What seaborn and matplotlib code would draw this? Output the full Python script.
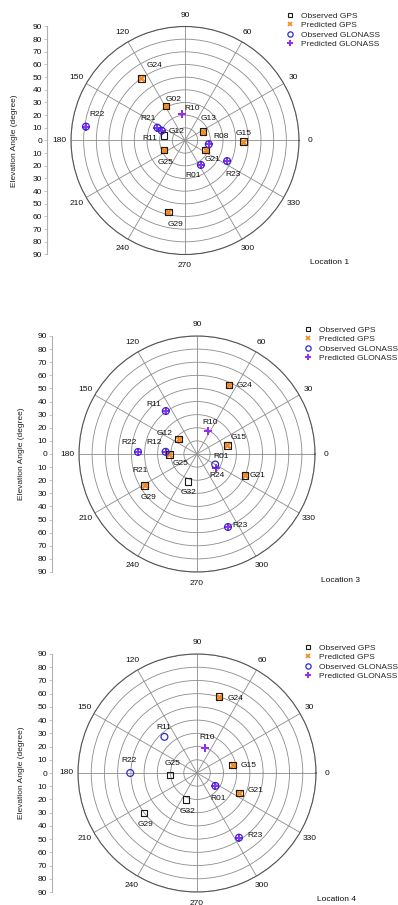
import numpy as np
import matplotlib
matplotlib.use("Agg")
import matplotlib.pyplot as plt
from matplotlib.lines import Line2D
import seaborn as sns

# ---- Location 1 ----
loc1_names = ["G24", "G02", "G13", "G12", "G15", "G21", "G25", "G29",
              "R10", "R21", "R11", "R08", "R01", "R23", "R22"]
loc1_az = [125, 119, 26, 166, 359, 335, 204, 257, 97, 155, 157, 351, 303, 334, 172]
loc1_el = [60, 31, 16, 17, 46, 18, 18, 58, 21, 24, 20, 19, 23, 37, 79]
loc1_obs = [1, 1, 1, 1, 1, 1, 1, 1, 0, 1, 1, 1, 1, 1, 1]
loc1_pred = [1, 1, 1, 0, 1, 1, 1, 1, 1, 1, 1, 1, 1, 1, 1]

# ---- Location 3 ----
loc3_names = ["G24", "G12", "G15", "G25", "G21", "G29", "G32",
              "R11", "R10", "R22", "R12", "R01", "R24", "R21", "R23"]
loc3_az = [65, 141, 16, 181, 336, 211, 252, 126, 65, 178, 176, 330, 325, 196, 293]
loc3_el = [58, 18, 24, 21, 40, 46.5, 22, 40.5, 19, 45, 24, 16, 18, 45, 60.5]
loc3_obs = [1, 1, 1, 1, 1, 1, 1, 1, 0, 1, 1, 1, 0, 0, 1]
loc3_pred = [1, 1, 1, 1, 1, 1, 0, 1, 1, 1, 1, 0, 1, 0, 1]

# ---- Location 4 ----
loc4_names = ["G24", "G15", "G21", "G25", "G32", "G29",
              "R11", "R10", "R22", "R01", "R23"]
loc4_az = [74, 12.6, 334.7, 184, 247, 217, 132, 72, 180, 325, 303]
loc4_el = [60, 27.7, 35.5, 20.3, 21.7, 50, 36.8, 20, 50.5, 17, 58.3]
loc4_obs = [1, 1, 1, 1, 1, 1, 1, 0, 1, 1, 1]
loc4_pred = [1, 1, 1, 0, 0, 0, 0, 1, 0, 1, 1]

# label offsets (pixels, right / up) for each satellite name
loc1_off = [(13, 13), (8, 7), (5, 13), (12, 4), (0, 8), (7, -9), (1, -13), (7, -12),
            (10, 6), (-9, 9), (-12, -8), (12, 8), (-8, -11), (6, -13), (11, 12)]
loc3_off = [(15, 0), (-14, 6), (11, 8), (11, -9), (13, 0), (4, -12), (0, -11),
            (-12, 7), (3, 9), (-9, 9), (-12, 9), (6, 8), (1, -8), (0, 0), (12, 2)]
loc4_off = [(17, -2), (16, 0), (16, 3), (2, 11), (2, -12), (1, -12),
            (-1, 9), (2, 10), (-1, 13), (3, -13), (16, 2)]

W, H = 398, 905
sns.set_theme(style="white")
plt.rcParams['font.family'] = ['Liberation Sans', 'DejaVu Sans']
FS = 6

C_GPS_OBS = "#1a1a1a"
C_GPS_PRED = "#f28a1e"
C_GLO_OBS = "#2b2bd0"
C_GLO_PRED = "#9a2cf0"


def fx(px):
    return px / W


def fy(py):
    return 1 - py / H


fig = plt.figure(figsize=(W / 100, H / 100), dpi=100)

panels = [
    dict(names=loc1_names, az=loc1_az, el=loc1_el, obs=loc1_obs, pred=loc1_pred, off=loc1_off,
         cx=185, cy=140.5, R=114, axx=47, labx=15, legx=286, legy=12, loc="Location 1", locxy=(310, 262)),
    dict(names=loc3_names, az=loc3_az, el=loc3_el, obs=loc3_obs, pred=loc3_pred, off=loc3_off,
         cx=197, cy=454, R=118, axx=52, labx=22, legx=304, legy=326, loc="Location 3", locxy=(321, 580)),
    dict(names=loc4_names, az=loc4_az, el=loc4_el, obs=loc4_obs, pred=loc4_pred, off=loc4_off,
         cx=197, cy=773, R=119, axx=52, labx=22, legx=304, legy=644, loc="Location 4", locxy=(317, 899)),
]

for p in panels:
    cx, cy, R = p["cx"], p["cy"], p["R"]
    ax = fig.add_axes([fx(cx - R), fy(cy + R), 2 * R / W, 2 * R / H], projection="polar")
    ax.set_ylim(0, 90)
    ax.set_rticks(np.arange(10, 91, 10))
    ax.set_yticklabels([])
    ax.set_thetagrids(np.arange(0, 360, 30), [str(a) for a in range(0, 360, 30)], fontsize=FS)
    ax.tick_params(axis="x", pad=-5, colors="#111111")
    ax.grid(True, color="#8c8c8c", linewidth=0.6)
    ax.spines["polar"].set_color("#555555")
    ax.spines["polar"].set_linewidth(0.8)
    ax.set_facecolor("white")

    th = np.deg2rad(np.array(p["az"], dtype=float))
    r = np.array(p["el"], dtype=float)
    obs = np.array(p["obs"], dtype=bool)
    pred = np.array(p["pred"], dtype=bool)
    gps = np.array([n.startswith("G") for n in p["names"]])
    glo = ~gps

    m = gps & pred
    sns.scatterplot(x=th[m], y=r[m], ax=ax, marker="x", s=20, color=C_GPS_PRED, linewidth=1.8, zorder=3)
    m = gps & obs
    sns.scatterplot(x=th[m], y=r[m], ax=ax, marker="s", s=22, facecolor="none",
                    edgecolor=C_GPS_OBS, linewidth=0.8, zorder=4)
    m = glo & pred
    sns.scatterplot(x=th[m], y=r[m], ax=ax, marker="P", s=34, color=C_GLO_PRED, linewidth=0, zorder=3)
    m = glo & obs
    sns.scatterplot(x=th[m], y=r[m], ax=ax, marker="o", s=24, facecolor="none",
                    edgecolor=C_GLO_OBS, linewidth=0.9, zorder=4)

    for name, t, rr, (dx, dy) in zip(p["names"], th, r, p["off"]):
        ax.annotate(name, (t, rr), xytext=(dx, dy), textcoords="offset pixels",
                    ha="center", va="center", fontsize=FS, color="#111111", zorder=5)

    # linear elevation axis on the left
    ax2 = fig.add_axes([fx(p["axx"]), fy(cy + R), 0.01, 2 * R / H])
    ax2.set_ylim(-90, 90)
    ax2.set_yticks(np.arange(-90, 91, 10))
    ax2.set_yticklabels([str(abs(v)) for v in range(-90, 91, 10)], fontsize=FS)
    ax2.set_xticks([])
    for s in ["top", "right", "bottom"]:
        ax2.spines[s].set_visible(False)
    ax2.spines["left"].set_color("#b0b0b0")
    ax2.spines["left"].set_linewidth(0.8)
    ax2.tick_params(axis="y", left=True, length=2, width=0.5, pad=1.5, colors="#111111")
    ax2.tick_params(axis="y", color="#b0b0b0")
    ax2.patch.set_visible(False)
    fig.text(fx(p["labx"]), fy(cy), "Elevation Angle (degree)", rotation=90,
             ha="center", va="center", fontsize=FS, color="#222222")

    handles = [
        Line2D([], [], linestyle="none", marker="s", markersize=3.5, markerfacecolor="none",
               markeredgecolor=C_GPS_OBS, markeredgewidth=0.8),
        Line2D([], [], linestyle="none", marker="x", markersize=3.5, color=C_GPS_PRED,
               markeredgewidth=1.2),
        Line2D([], [], linestyle="none", marker="o", markersize=3.8, markerfacecolor="none",
               markeredgecolor=C_GLO_OBS, markeredgewidth=0.9),
        Line2D([], [], linestyle="none", marker="P", markersize=3.8, color=C_GLO_PRED,
               markeredgewidth=0),
    ]
    labels = ["Observed GPS", "Predicted GPS", "Observed GLONASS", "Predicted GLONASS"]
    fig.legend(handles, labels, loc="upper left", bbox_to_anchor=(fx(p["legx"]), fy(p["legy"])),
               frameon=False, fontsize=FS, borderpad=0, borderaxespad=0, handlelength=0.9,
               handletextpad=0.9, labelspacing=0.2)

    fig.text(fx(p["locxy"][0]), fy(p["locxy"][1]), p["loc"], ha="left", va="center",
             fontsize=FS, color="#111111")

fig.savefig("out.png", dpi=100, facecolor="white")
